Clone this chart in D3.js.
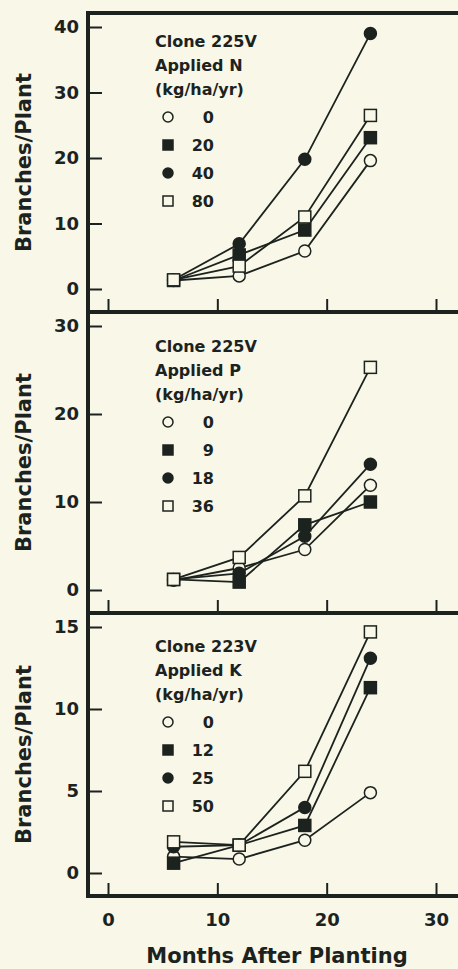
<!DOCTYPE html>
<html lang="en">
    <head>
        <meta charset="utf-8">
        <title>Branches per plant</title>
        <script type="text/javascript" src="https://cdn.jsdelivr.net/npm/d3@7"></script>
        <style>
            body { margin: 0; background: #f9f7e7; }
            text { font-family: "DejaVu Sans", sans-serif; font-weight: bold; fill: #1c231f; }
        </style>
    </head>
    <body>
        <script type="text/javascript">
            // months after planting
            const months = [6, 12, 18, 24]
            const xTicks = [0, 10, 20, 30]

            // panel 1 : clone 225V, applied N
            const nRates = ["0", "20", "40", "80"]
            const n0 = [1.3, 2.0, 5.8, 19.6]
            const n20 = [1.3, 5.2, 9.0, 23.1]
            const n40 = [1.4, 6.9, 19.8, 39.0]
            const n80 = [1.4, 3.5, 11.0, 26.5]
            const nTicks = [0, 10, 20, 30, 40]

            // panel 2 : clone 225V, applied P
            const pRates = ["0", "9", "18", "36"]
            const p0 = [1.1, 2.5, 4.6, 11.9]
            const p9 = [1.2, 0.9, 7.4, 10.0]
            const p18 = [1.2, 1.9, 6.1, 14.3]
            const p36 = [1.2, 3.7, 10.7, 25.3]
            const pTicks = [0, 10, 20, 30]

            // panel 3 : clone 223V, applied K
            const kRates = ["0", "12", "25", "50"]
            const k0 = [1.0, 0.85, 2.0, 4.9]
            const k12 = [0.6, 1.7, 2.9, 11.3]
            const k25 = [1.6, 1.7, 4.0, 13.1]
            const k50 = [1.9, 1.7, 6.2, 14.7]
            const kTicks = [0, 5, 10, 15]

            const ink = "#1c231f"
            const paper = "#f9f7e7"
            const w = 458
            const h = 969
            const frameLeft = 88
            const frameRight = 475

            // marker order is the same in every panel
            const markers = ["openCircle", "filledSquare", "filledCircle", "openSquare"]

            const panels = [
                {top: 13, bottom: 312, clone: "Clone 225V", nutrient: "Applied N", rates: nRates,
                 series: [n0, n20, n40, n80], ticks: nTicks, legendTop: 34},
                {top: 312, bottom: 613, clone: "Clone 225V", nutrient: "Applied P", rates: pRates,
                 series: [p0, p9, p18, p36], ticks: pTicks, legendTop: 40},
                {top: 613, bottom: 896, clone: "Clone 223V", nutrient: "Applied K", rates: kRates,
                 series: [k0, k12, k25, k50], ticks: kTicks, legendTop: 39}
            ]

            let svg = d3.select("body")
                        .append("svg")
                            .attr("width", w)
                            .attr("height", h)

            let x = d3.scaleLinear().domain([0, 30]).range([108, 436])

            function drawMarker(g, type, cx, cy, size) {
                if (type === "openCircle" || type === "filledCircle") {
                    g.append("circle")
                        .attr("cx", cx)
                        .attr("cy", cy)
                        .attr("r", size / 2)
                        .attr("fill", type === "openCircle" ? paper : ink)
                        .attr("stroke", ink)
                        .attr("stroke-width", 1.5)
                } else {
                    g.append("rect")
                        .attr("x", cx - size / 2)
                        .attr("y", cy - size / 2)
                        .attr("width", size)
                        .attr("height", size)
                        .attr("fill", type === "openSquare" ? paper : ink)
                        .attr("stroke", ink)
                        .attr("stroke-width", 1.5)
                }
            }

            panels.forEach((p, pi) => {
                let g = svg.append("g")
                let y = d3.scaleLinear()
                          .domain([0, d3.max(p.ticks)])
                          .range([p.bottom - 23, p.top + 14])

                // y axis, ticks pointing into the plot
                let yAxis = d3.axisLeft(y)
                              .tickValues(p.ticks)
                              .tickSizeInner(-14)
                              .tickSizeOuter(0)
                              .tickPadding(9)
                g.append("g")
                    .attr("transform", "translate(" + frameLeft + ",0)")
                    .call(yAxis)
                    .call(a => a.select(".domain").remove())
                    .call(a => a.selectAll("line").attr("stroke", ink).attr("stroke-width", 2))
                    .call(a => a.selectAll("text").attr("font-size", 18).attr("fill", ink)
                                 .style("font-family", "'DejaVu Sans', sans-serif"))

                // x axis, ticks pointing up
                let xAxis = d3.axisBottom(x)
                              .tickValues(xTicks)
                              .tickSizeInner(-13)
                              .tickSizeOuter(0)
                              .tickPadding(17)
                              .tickFormat(pi === 2 ? d3.format("d") : () => "")
                g.append("g")
                    .attr("transform", "translate(0," + p.bottom + ")")
                    .call(xAxis)
                    .call(a => a.select(".domain").remove())
                    .call(a => a.selectAll("line").attr("stroke", ink).attr("stroke-width", 2))
                    .call(a => a.selectAll("text").attr("font-size", 18).attr("fill", ink)
                                 .style("font-family", "'DejaVu Sans', sans-serif"))

                // y label
                g.append("text")
                    .attr("transform", "translate(31," + ((p.top + p.bottom) / 2) + ") rotate(-90)")
                    .attr("text-anchor", "middle")
                    .attr("font-size", 21)
                    .text("Branches/Plant")

                // lines
                let line = d3.line()
                             .x((d, i) => x(months[i]))
                             .y(d => y(d))
                p.series.forEach(s => {
                    g.append("path")
                        .datum(s)
                        .attr("d", line)
                        .attr("fill", "none")
                        .attr("stroke", ink)
                        .attr("stroke-width", 1.8)
                })

                // points
                p.series.forEach((s, si) => {
                    s.forEach((v, i) => drawMarker(g, markers[si], x(months[i]), y(v), 12))
                })

                // legend
                let lg = g.append("g")
                let ly = p.top + p.legendTop
                ;[p.clone, p.nutrient, "(kg/ha/yr)"].forEach((t, i) => {
                    lg.append("text")
                        .attr("x", 155)
                        .attr("y", ly + i * 24)
                        .attr("font-size", 16)
                        .text(t)
                })
                p.rates.forEach((r, i) => {
                    let cy = ly + 70 + i * 28
                    drawMarker(lg, markers[i], 168, cy, 10)
                    lg.append("text")
                        .attr("x", 214)
                        .attr("y", cy + 6)
                        .attr("text-anchor", "end")
                        .attr("font-size", 16)
                        .text(r)
                })
            })

            // heavy frame
            let frame = svg.append("g")
                           .attr("stroke", ink)
                           .attr("stroke-width", 4)
                           .attr("fill", "none")
            frame.append("line")
                .attr("x1", frameLeft).attr("x2", frameLeft)
                .attr("y1", panels[0].top - 2).attr("y2", panels[2].bottom + 2)
            panels.forEach(p => {
                frame.append("line")
                    .attr("x1", frameLeft).attr("x2", frameRight)
                    .attr("y1", p.top).attr("y2", p.top)
            })
            frame.append("line")
                .attr("x1", frameLeft).attr("x2", frameRight)
                .attr("y1", panels[2].bottom).attr("y2", panels[2].bottom)

            svg.append("text")
                .attr("x", 277)
                .attr("y", 963)
                .attr("text-anchor", "middle")
                .attr("font-size", 21)
                .text("Months After Planting")
        </script>
    </body>
</html>
